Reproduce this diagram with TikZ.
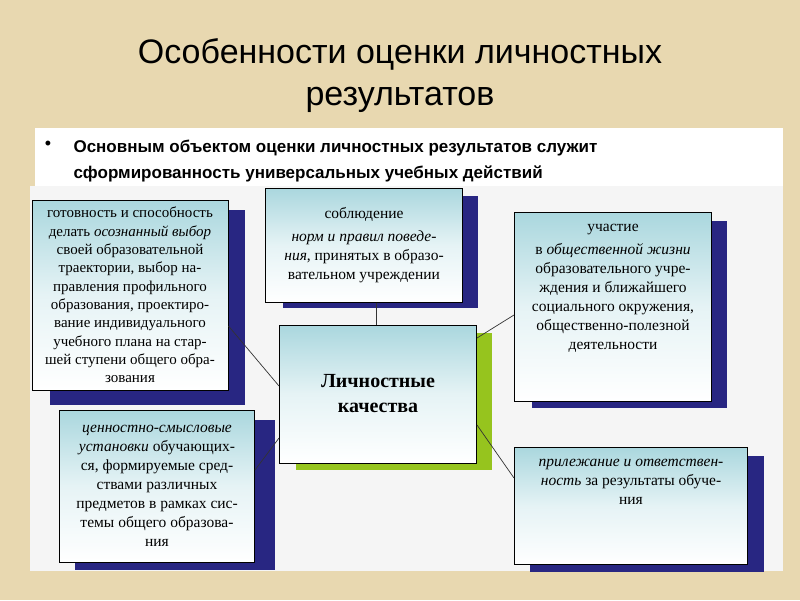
\documentclass[tikz,border=0pt]{standalone}
\usepackage{fontspec}
\setmainfont{Liberation Serif}
\newfontfamily\titlefont{Liberation Sans}
\definecolor{teal1}{RGB}{170,215,222}
\definecolor{navy1}{RGB}{40,38,130}
\definecolor{green1}{RGB}{150,196,30}
\begin{document}
\begin{tikzpicture}[x=1pt,y=-1pt,
  box/.style={draw=black,line width=1pt,top color=teal1,bottom color=white,middle color=white!70!teal1,align=center,font=\fontsize{15.5}{19}\selectfont,inner sep=0pt},
  sh/.style={fill=navy1},
  con/.style={draw=black!80,line width=0.7pt}]
\useasboundingbox (0,0) rectangle (800,600);
\fill[color={rgb,255:red,232;green,216;blue,176}] (0,0) rectangle (800,600);
\fill[white] (35,128) rectangle (783,186);
\fill[black!4] (30,186) rectangle (783,571);
\node[font=\titlefont\fontsize{34}{42}\selectfont,align=center] (title) at (400,76) {Особенности оценки личностных\\результатов};
\node[anchor=north west,font=\titlefont\bfseries\fontsize{17}{26}\selectfont,align=left] (bul) at (70,136) {Основным объектом оценки личностных результатов служит\\сформированность универсальных учебных действий};
\node[font=\titlefont\fontsize{18}{18}\selectfont] (dot) at (48,145) {•};
% shadows
\fill[sh] (50,210) rectangle (245,405);
\fill[sh] (75,420) rectangle (275,570);
\fill[sh] (283,196) rectangle (478,308);
\fill[green1] (296,333) rectangle (492,470);
\fill[sh] (532,221) rectangle (727,408);
\fill[sh] (530,456) rectangle (764,572);
% boxes
\node[box,minimum width=196,minimum height=190,font=\fontsize{15}{18.3}\selectfont] (lt) at (130,295) {готовность и способность\\делать \textit{осознанный выбор}\\своей образовательной\\траектории,  выбор на-\\правления профильного\\образования, проектиро-\\вание индивидуального\\учебного плана на стар-\\шей ступени общего обра-\\зования};
\node[box,minimum width=195,minimum height=152] (lb) at (157,486) {\textit{ценностно-смысловые}\\\textit{установки}  обучающих-\\ся, формируемые сред-\\ствами различных\\предметов в рамках сис-\\темы общего образова-\\ния};
\node[box,minimum width=197,minimum height=114] (tc) at (364,245) {соблюдение\\[4pt]\textit{норм и правил поведе-}\\\textit{ния}, принятых в образо-\\вательном учреждении};
\node[box,minimum width=197,minimum height=138,font=\bfseries\fontsize{20}{25}\selectfont] (c) at (378,394) {Личностные\\качества};
\node[box,minimum width=197,minimum height=189] (rt) at (613,307) {участие\\[4pt]в \textit{общественной жизни}\\образовательного учре-\\ждения и ближайшего\\социального окружения,\\общественно-полезной\\деятельности\\[22pt]};
\node[box,minimum width=233,minimum height=117] (rb) at (631,506) {\textit{прилежание и ответствен-}\\\textit{ность} за результаты обуче-\\ния\\[30pt]};
% connectors
\draw[con] (tc.south -| 376,0) -- (c.north -| 376,0);
\draw[con] (lt.east |- 0,326) -- (c.west |- 0,386);
\draw[con] (lb.east |- 0,470) -- (c.west |- 0,438);
\draw[con] (c.east |- 0,338) -- (rt.west |- 0,315);
\draw[con] (c.east |- 0,425) -- (rb.west |- 0,478);
\end{tikzpicture}
\end{document}
